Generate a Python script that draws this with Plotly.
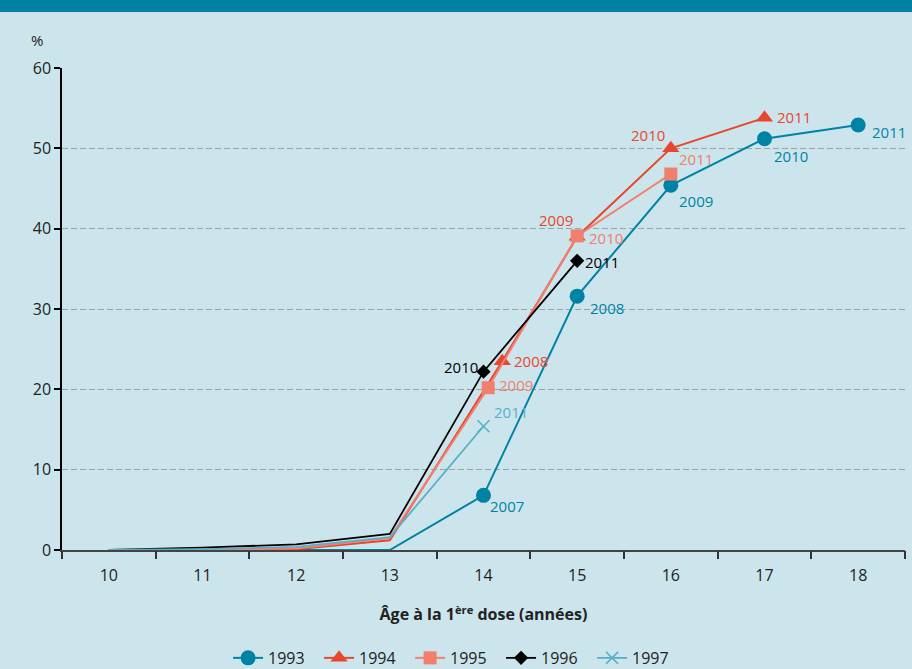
import plotly.graph_objects as go

# ---- data ----
series_names = ["1993", "1994", "1995", "1996", "1997"]
age_ticks = [10, 11, 12, 13, 14, 15, 16, 17, 18]
y_ticks = [0, 10, 20, 30, 40, 50, 60]

x_1993 = [10, 11, 12, 13, 14, 15, 16, 17, 18]
y_1993 = [0, 0, 0, 0, 6.8, 31.6, 45.4, 51.2, 52.9]
lab_1993 = [None, None, None, None, "2007", "2008", "2009", "2010", "2011"]

x_1994 = [10, 11, 12, 13, 14.2, 15, 16, 17]
y_1994 = [0, 0, 0.1, 1.2, 23.5, 39.0, 50.0, 53.8]
lab_1994 = [None, None, None, None, "2008", "2009", "2010", "2011"]

x_1995 = [10, 11, 12, 13, 14.05, 15, 16]
y_1995 = [0, 0, 0.2, 1.5, 20.2, 39.1, 46.8]
lab_1995 = [None, None, None, None, "2009", "2010", "2011"]

x_1996 = [10, 11, 12, 13, 14, 15]
y_1996 = [0, 0.3, 0.7, 2.0, 22.2, 36.0]
lab_1996 = [None, None, None, None, "2010", "2011"]

x_1997 = [10, 11, 12, 13, 14]
y_1997 = [0, 0.1, 0.4, 1.6, 15.4]
lab_1997 = [None, None, None, None, "2011"]

# ---- styles ----
FONT = "Open Sans, Noto Sans, sans-serif"
BG = "#cce5ec"
styles = {
    "1993": dict(color="#0082a4", symbol="circle", size=15, lw=2),
    "1994": dict(color="#e8462d", symbol="triangle-up", size=15, lw=2),
    "1995": dict(color="#f07f6e", symbol="square", size=13, lw=2),
    "1996": dict(color="#000000", symbol="diamond", size=11, lw=1.8),
    "1997": dict(color="#5aafc6", symbol="x-thin-open", size=12, lw=1.8),
}
# label placement per series (xanchor, xshift, yshift) for each labelled point
label_pos = {
    "1993": [("left", 4, -11), ("left", 11, -12), ("left", 6, -16), ("left", 7, -17), ("left", 12, -7)],
    "1994": [("left", 10, 0), ("right", -2, 17), ("right", -4, 13), ("left", 10, 1)],
    "1995": [("left", 9, 3), ("left", 10, -2), ("left", 6, 15)],
    "1996": [("right", -4, 5), ("left", 6, -1)],
    "1997": [("left", 8, 14)],
}

data = {
    "1993": (x_1993, y_1993, lab_1993),
    "1994": (x_1994, y_1994, lab_1994),
    "1995": (x_1995, y_1995, lab_1995),
    "1996": (x_1996, y_1996, lab_1996),
    "1997": (x_1997, y_1997, lab_1997),
}

fig = go.Figure()
annotations = []
for name in series_names:
    xs, ys, labs = data[name]
    st = styles[name]
    marker = dict(color=st["color"], symbol=st["symbol"], size=st["size"],
                  line=dict(color=st["color"], width=1.5 if "x" in st["symbol"] else 0))
    fig.add_trace(go.Scatter(x=xs, y=ys, mode="lines", showlegend=False,
                             line=dict(color=st["color"], width=st["lw"]),
                             hoverinfo="skip"))
    mx = [x for x, l in zip(xs, labs) if l]
    my = [y for y, l in zip(ys, labs) if l]
    fig.add_trace(go.Scatter(x=mx, y=my, mode="markers", showlegend=False, marker=marker))
    fig.add_trace(go.Scatter(x=[None], y=[None], mode="lines+markers", name=name,
                             line=dict(color=st["color"], width=st["lw"]), marker=marker))
    k = 0
    for x, y, l in zip(xs, ys, labs):
        if not l:
            continue
        xa, dx, dy = label_pos[name][k]
        k += 1
        annotations.append(dict(x=x, y=y, xref="x", yref="y", text=l, showarrow=False,
                                xanchor=xa, yanchor="middle", xshift=dx, yshift=dy,
                                font=dict(family=FONT, size=15, color=st["color"])))

annotations.append(dict(x=-0.03, y=1.058, xref="paper", yref="paper", text="%",
                        showarrow=False, xanchor="center", yanchor="middle",
                        font=dict(family=FONT, size=15, color="#222")))

# invisible trace on the overlay axis for boundary ticks
fig.add_trace(go.Scatter(x=[9.5, 18.5], y=[0, 0], xaxis="x2", mode="markers",
                         marker=dict(opacity=0), showlegend=False, hoverinfo="skip"))

fig.update_layout(
    width=912, height=669,
    paper_bgcolor=BG, plot_bgcolor=BG,
    margin=dict(l=62, r=7, t=68, b=119, autoexpand=False),
    font=dict(family=FONT, size=15, color="#222"),
    xaxis=dict(range=[9.5, 18.5], tickvals=age_ticks, ticktext=[str(a) for a in age_ticks],
               ticks="outside", ticklen=10, tickcolor="rgba(0,0,0,0)", automargin=False,
               showgrid=False, zeroline=False, showline=True,
               linecolor="#444", linewidth=2,
               tickfont=dict(size=16, color="#222"),
               title=dict(text="<b>Âge à la 1<sup>ère</sup> dose (années)</b>",
                          font=dict(size=16, color="#222"), standoff=24)),
    xaxis2=dict(range=[9.5, 18.5], overlaying="x", side="bottom", automargin=False,
                tickvals=[9.5 + i for i in range(10)], showticklabels=False,
                ticks="outside", ticklen=8, tickwidth=1.5, tickcolor="#333",
                showgrid=False, zeroline=False, showline=False),
    yaxis=dict(range=[0, 60], tickvals=y_ticks, ticks="outside", ticklen=6,
               tickcolor="#000", tickwidth=1.5, automargin=False,
               showline=True, linecolor="#000", linewidth=1.5,
               showgrid=True, gridcolor="#9aa3a6", griddash="6px,3px", gridwidth=1,
               zeroline=False, tickfont=dict(size=16, color="#222")),
    legend=dict(orientation="h", x=0.197, xanchor="left", y=-0.224, yanchor="middle",
                font=dict(size=16, color="#222"), bgcolor="rgba(0,0,0,0)",
                itemwidth=30, entrywidth=46, entrywidthmode="pixels", traceorder="normal"),
    annotations=annotations,
    shapes=[dict(type="rect", xref="paper", yref="paper", x0=-0.1, x1=1.1,
                 y0=1.116, y1=1.2, fillcolor="#0080a5", line=dict(width=0), layer="above")],
)

fig.write_html("out.html", post_script="document.body.style.margin='0';",
               config={"displayModeBar": False})
